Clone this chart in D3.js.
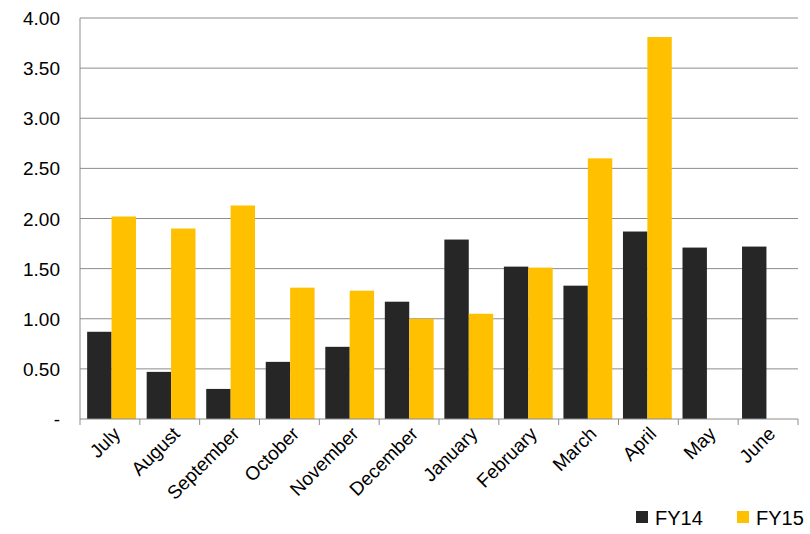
<!DOCTYPE html>
<html><head><meta charset="utf-8">
<script src="https://cdn.jsdelivr.net/npm/d3@7"></script>
<style>body{margin:0;background:#fff}text{font-family:"Liberation Sans",Arial,sans-serif}</style>
</head><body><svg id="c" width="810" height="534"></svg>
<script>
const months=["July","August","September","October","November","December","January","February","March","April","May","June"];
const fy14=[0.87,0.47,0.30,0.57,0.72,1.17,1.79,1.52,1.33,1.87,1.71,1.72];
const fy15=[2.02,1.90,2.13,1.31,1.28,1.00,1.05,1.51,2.60,3.81,null,null];
const yTicks=[0,0.5,1,1.5,2,2.5,3,3.5,4];
const svg=d3.select("#c");
const L=80,R=798,T=18,B=419;
const x=d3.scaleBand().domain(months).range([L,R]).paddingInner(0.18).paddingOuter(0.12);
const y=d3.scaleLinear().domain([0,4]).range([B,T]);
svg.append("g").selectAll("line").data(yTicks.slice(1)).join("line")
 .attr("x1",L).attr("x2",R).attr("y1",d=>y(d)).attr("y2",d=>y(d)).attr("stroke","#8c8c8c").attr("stroke-width",1);
svg.append("g").selectAll("text").data(yTicks).join("text")
 .attr("x",60).attr("y",d=>y(d)+7).attr("text-anchor","end").attr("font-size",19).attr("fill","#000")
 .text(d=>d===0?"-":d.toFixed(2));
const bw=x.bandwidth()/2;
svg.append("g").selectAll("rect").data(months).join("rect")
 .attr("x",d=>x(d)).attr("width",bw).attr("y",(d,i)=>y(fy14[i])).attr("height",(d,i)=>B-y(fy14[i])).attr("fill","#262626");
svg.append("g").selectAll("rect").data(months.filter((d,i)=>fy15[i]!=null)).join("rect")
 .attr("x",d=>x(d)+bw).attr("width",bw).attr("y",(d,i)=>y(fy15[i])).attr("height",(d,i)=>B-y(fy15[i])).attr("fill","#FFC000");
svg.append("line").attr("x1",L).attr("x2",L).attr("y1",T).attr("y2",B).attr("stroke","#8c8c8c");
svg.append("line").attr("x1",L).attr("x2",R).attr("y1",B).attr("y2",B).attr("stroke","#8c8c8c");
const step=(R-L)/12;
svg.append("g").selectAll("line").data(d3.range(13)).join("line")
 .attr("x1",i=>L+i*step).attr("x2",i=>L+i*step).attr("y1",B).attr("y2",B+6).attr("stroke","#8c8c8c");
svg.append("g").selectAll("text").data(months).join("text")
 .attr("transform",d=>`translate(${x(d)+x.bandwidth()/2+10},${B+16}) rotate(-45)`)
 .attr("text-anchor","end").attr("font-size",19).text(d=>d);
const lg=[["FY14","#262626",636],["FY15","#FFC000",737]];
lg.forEach(([t,c,lx])=>{svg.append("rect").attr("x",lx).attr("y",511).attr("width",12).attr("height",12).attr("fill",c);
 svg.append("text").attr("x",lx+19).attr("y",525).attr("font-size",20).text(t);});
</script></body></html>
